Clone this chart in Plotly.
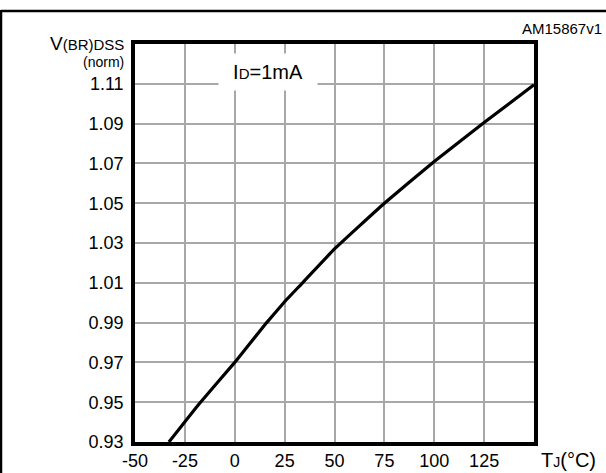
import plotly.graph_objects as go

# Data
temp_c = [-33, -18, 0, 16, 25, 34, 50, 75, 100, 125, 150]
v_norm = [0.930, 0.949, 0.970, 0.990, 1.0005, 1.010, 1.027, 1.050, 1.071, 1.0905, 1.1095]

x_ticks = [-50, -25, 0, 25, 50, 75, 100, 125]
y_ticks = [0.93, 0.95, 0.97, 0.99, 1.01, 1.03, 1.05, 1.07, 1.09, 1.11]
y_tick_labels = ["0.93", "0.95", "0.97", "0.99", "1.01", "1.03", "1.05", "1.07", "1.09", "1.11"]

W, H = 606, 473
L, R, T, B = 135, 534, 44, 442  # plot area in px


def px_x(px):
    return (px - L) / (R - L)


def px_y(py):
    return (B - py) / (B - T)


FONT = "Liberation Sans, Arial, sans-serif"

fig = go.Figure()
fig.add_trace(go.Scatter(
    x=temp_c, y=v_norm, mode="lines",
    line=dict(color="black", width=3.2, shape="spline", smoothing=0.3),
    hoverinfo="skip", showlegend=False,
))

fig.update_layout(
    width=W, height=H,
    margin=dict(l=L, r=W - R, t=T, b=H - B, pad=0, autoexpand=False),
    paper_bgcolor="white", plot_bgcolor="white",
    font=dict(family=FONT, size=18, color="black"),
    showlegend=False,
)
fig.update_xaxes(
    range=[-50, 150], tickmode="array", tickvals=x_ticks,
    ticktext=[str(v) for v in x_ticks], automargin=False,
    showgrid=True, gridcolor="#a8a8a8", gridwidth=1.5,
    showline=True, linecolor="black", linewidth=3.5, mirror=True,
    ticks="", zeroline=False, tickfont=dict(size=18),
)
fig.update_yaxes(
    range=[0.93, 1.13], tickmode="array", tickvals=y_ticks, ticktext=y_tick_labels,
    automargin=False,
    showgrid=True, gridcolor="#a8a8a8", gridwidth=1.5,
    showline=True, linecolor="black", linewidth=3.5, mirror=True,
    ticks="", zeroline=False, tickfont=dict(size=18), ticklabelstandoff=4,
)

# Outer frame (top and left lines)
fig.add_shape(type="line", xref="paper", yref="paper",
              x0=px_x(1), x1=px_x(607), y0=px_y(11), y1=px_y(11),
              line=dict(color="black", width=2.5))
fig.add_shape(type="line", xref="paper", yref="paper",
              x0=px_x(1), x1=px_x(1), y0=px_y(10), y1=px_y(474),
              line=dict(color="black", width=2.5))

# Y-axis title
fig.add_annotation(xref="paper", yref="paper", x=px_x(126), y=px_y(43),
                   xanchor="right", yanchor="middle", showarrow=False,
                   text="V<span style='font-size:15px'>(BR)DSS</span>",
                   font=dict(size=19))
fig.add_annotation(xref="paper", yref="paper", x=px_x(126), y=px_y(62),
                   xanchor="right", yanchor="middle", showarrow=False,
                   text="(norm)", font=dict(size=14))

# X-axis title
fig.add_annotation(xref="paper", yref="paper", x=px_x(539), y=px_y(460),
                   xanchor="left", yanchor="middle", showarrow=False,
                   text="T<span style='font-size:14px'>J</span>(°C)",
                   font=dict(size=20))

# Figure id
fig.add_annotation(xref="paper", yref="paper", x=px_x(604), y=px_y(28),
                   xanchor="right", yanchor="middle", showarrow=False,
                   text="AM15867v1", font=dict(size=15))

# Condition label with white box
fig.add_annotation(xref="paper", yref="paper", x=px_x(268), y=px_y(72),
                   xanchor="center", yanchor="middle", showarrow=False,
                   text="I<span style='font-size:15px'>D</span>=1mA",
                   font=dict(size=20), bgcolor="white", width=98, height=36,
                   borderpad=0)

fig.write_html("out.html", config={"displayModeBar": False},
               post_script="document.body.style.margin='0px';document.body.style.overflow='hidden';")
